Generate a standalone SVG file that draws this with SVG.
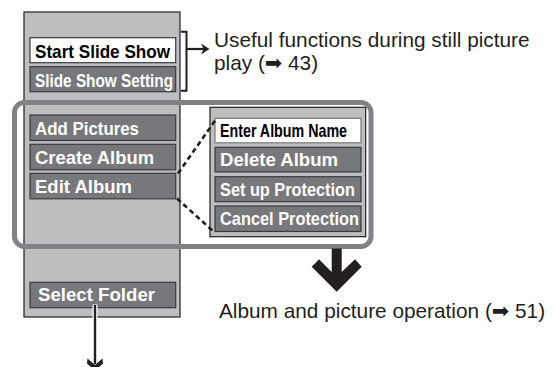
<svg xmlns="http://www.w3.org/2000/svg" width="555" height="367" viewBox="0 0 555 367">
<style>
text{font-family:"Liberation Sans","DejaVu Sans",Arial,sans-serif}
.panel{fill:#bcbec0;stroke:#231f20;stroke-width:1.2}
.gbox{fill:#77787b;stroke:#3a3a3c;stroke-width:1.2}
.wbox{fill:#ffffff;stroke:#3a3a3c;stroke-width:1.2}
.bt{font-weight:bold;font-size:18.5px;fill:#ffffff}
.bk{font-weight:bold;font-size:18.5px;fill:#000000}
.lab{font-size:20.8px;fill:#231f20}
.dash{stroke:#231f20;stroke-width:2.6;stroke-dasharray:5 3.5;fill:none}
</style>
<rect width="555" height="367" fill="#ffffff"/>
<g id="main-menu">
<rect class="panel" x="24" y="12" width="156" height="305"/>
</g>
<g id="start-slide-show">
<rect class="wbox" x="30" y="37.7" width="145.7" height="25"/>
<text class="bk" x="35" y="58.3" textLength="135" lengthAdjust="spacingAndGlyphs">Start Slide Show</text>
</g>
<g id="slide-show-setting">
<rect class="gbox" x="30" y="66.7" width="145.7" height="25"/>
<text class="bt" x="35" y="87.3" textLength="138" lengthAdjust="spacingAndGlyphs">Slide Show Setting</text>
</g>
<g id="add-pictures">
<rect class="gbox" x="30" y="115" width="145.7" height="25.5"/>
<text class="bt" x="35" y="135" textLength="104" lengthAdjust="spacingAndGlyphs">Add Pictures</text>
</g>
<g id="create-album">
<rect class="gbox" x="30" y="144.3" width="145.7" height="25.5"/>
<text class="bt" x="35" y="164" textLength="119" lengthAdjust="spacingAndGlyphs">Create Album</text>
</g>
<g id="edit-album">
<rect class="gbox" x="30" y="173.3" width="145.7" height="25.5"/>
<text class="bt" x="35" y="193" textLength="97" lengthAdjust="spacingAndGlyphs">Edit Album</text>
</g>
<g id="select-folder">
<rect class="gbox" x="30" y="282.3" width="145.7" height="25.4"/>
<text class="bt" x="38" y="301" textLength="117" lengthAdjust="spacingAndGlyphs">Select Folder</text>
</g>
<g id="edit-submenu">
<rect class="panel" x="210" y="107.3" width="155.7" height="129.4"/>
</g>
<g id="enter-album-name">
<rect class="wbox" x="215" y="118.3" width="146" height="24.5" style="stroke:#77787b"/>
<text class="bk" x="220" y="136.5" textLength="127" lengthAdjust="spacingAndGlyphs">Enter Album Name</text>
</g>
<g id="delete-album">
<rect class="gbox" x="215" y="147.3" width="146" height="24.6"/>
<text class="bt" x="220" y="166" textLength="118" lengthAdjust="spacingAndGlyphs">Delete Album</text>
</g>
<g id="set-up-protection">
<rect class="gbox" x="215" y="176.7" width="146" height="25"/>
<text class="bt" x="220" y="195.5" textLength="135" lengthAdjust="spacingAndGlyphs">Set up Protection</text>
</g>
<g id="cancel-protection">
<rect class="gbox" x="215" y="206" width="146" height="25.5"/>
<text class="bt" x="220" y="224.5" textLength="139" lengthAdjust="spacingAndGlyphs">Cancel Protection</text>
</g>
<g id="album-group">
<rect x="14.5" y="102.5" width="356.5" height="144" rx="10" ry="10" fill="none" stroke="#808285" stroke-width="5"/>
</g>
<g id="connectors">
<polyline points="181,31.7 186.5,31.7 186.5,90.7 181,90.7" fill="none" stroke="#231f20" stroke-width="2"/>
<line x1="186.5" y1="49" x2="204" y2="49" stroke="#231f20" stroke-width="2.2"/>
<path d="M201,43.5 L209.5,49 L201,54.5 L203.5,49 Z" fill="#231f20"/>
<line class="dash" x1="178" y1="173.5" x2="216.5" y2="118.5"/>
<line class="dash" x1="177" y1="198.5" x2="213.5" y2="231.5"/>
<path d="M331.7,248.5 L341.7,248.5 L341.7,272 L355,259.3 L361.7,266.7 L336.7,291.7 L311.7,266.7 L319,259.3 L331.7,272 Z" fill="#231f20"/>
<line x1="95" y1="304.5" x2="95" y2="362" stroke="#ffffff" stroke-width="5"/>
<line x1="95" y1="305" x2="95" y2="364" stroke="#231f20" stroke-width="2.4"/>
<path d="M87.5,358.5 L95,365 L102.5,358.5 L103,363.5 L95,370.5 L87,363.5 Z" fill="#231f20"/>
</g>
<g id="labels">
<text class="lab" x="214" y="46.7">Useful functions during still picture</text>
<text class="lab" x="214" y="69.5">play (➡ 43)</text>
<text class="lab" x="219" y="318">Album and picture operation (➡ 51)</text>
</g>
</svg>
